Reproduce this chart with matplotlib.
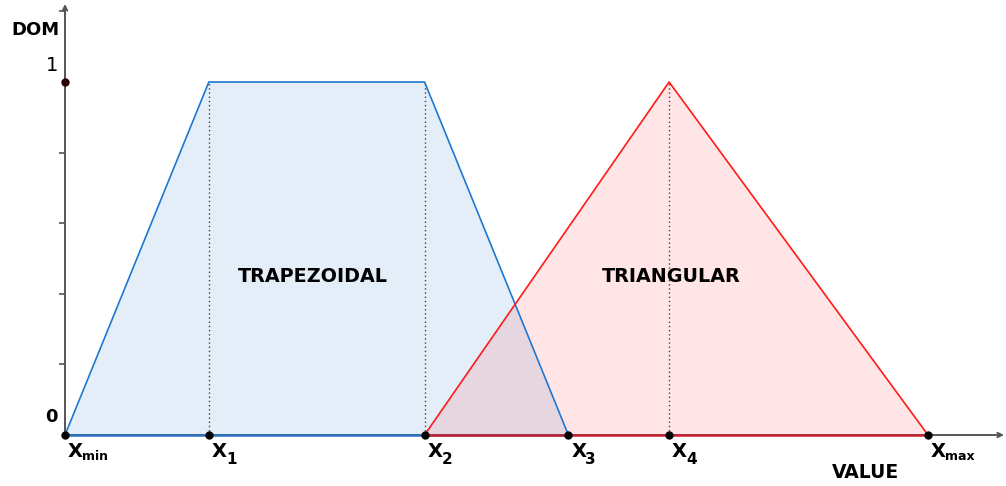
import matplotlib.pyplot as plt
from matplotlib.lines import TICKLEFT

# break points on the VALUE axis
x_subs = ["min", "1", "2", "3", "4", "max"]
x_vals = [0.0, 2.0, 5.0, 7.0, 8.4, 12.0]

trap_x = [0.0, 2.0, 5.0, 7.0]
trap_y = [0.0, 1.0, 1.0, 0.0]
tri_x = [5.0, 8.4, 12.0]
tri_y = [0.0, 1.0, 0.0]

y_minor = [0.2, 0.4, 0.6, 0.8, 1.2]

W, H = 1006, 486
ox, oy = 65, 435          # pixel position of the origin
sx, sy = 863 / 12, 353.0  # pixels per unit

fig = plt.figure(figsize=(W / 100, H / 100), dpi=100)
ax = fig.add_axes([0, 0, 1, 1])
ax.set_xlim(-ox / sx, (W - ox) / sx)
ax.set_ylim(-(H - oy) / sy, oy / sy)
ax.axis("off")

blue = "#1f78d1"
red = "#ff1a1a"

# axes with arrows
ax.annotate("", xy=((1004 - ox) / sx, 0), xytext=(0, 0),
            arrowprops=dict(arrowstyle="->", color="#555555", lw=1.4,
                            mutation_scale=8, shrinkA=0, shrinkB=0), zorder=1)
ax.annotate("", xy=(0, (oy - 4) / sy), xytext=(0, 0),
            arrowprops=dict(arrowstyle="->", color="#555555", lw=1.4,
                            mutation_scale=8, shrinkA=0, shrinkB=0), zorder=1)
ax.plot([0] * len(y_minor), y_minor, ls="none", marker=TICKLEFT,
        ms=4, mew=1.2, color="#555555")

# membership functions
ax.fill(trap_x, trap_y, color=blue, alpha=0.12, lw=0, zorder=2)
ax.plot(trap_x, trap_y, color=blue, lw=1.2, zorder=3)
ax.plot([trap_x[0], trap_x[-1]], [0, 0], color="#2a6fc0", lw=1.8, zorder=3)
ax.fill(tri_x, tri_y, color=red, alpha=0.11, lw=0, zorder=2)
ax.plot(tri_x, tri_y, color=red, lw=1.2, zorder=3)
ax.plot([tri_x[0], tri_x[-1]], [0, 0], color="#c8202e", lw=1.8, zorder=3)

# dotted guides
for xv in [trap_x[1], trap_x[2], tri_x[1]]:
    ax.plot([xv, xv], [0, 1], ls=(0, (1, 2)), color="#444444", lw=1.0, zorder=2)

# points
ax.plot(x_vals, [0] * len(x_vals), "o", color="black", ms=5, zorder=5)
ax.plot([0], [1], "o", color="#2a0000", ms=5, zorder=5)

# labels: bold X with a lowered subscript
for sub, xv in zip(x_subs, x_vals):
    ax.text(xv + 3 / sx, -22 / sy, "X", fontsize=14, fontweight="bold",
            ha="left", va="baseline")
    if sub.isdigit():
        ax.text(xv + 17 / sx, -29 / sy, sub, fontsize=11, fontweight="bold",
                ha="left", va="baseline")
    else:
        ax.text(xv + 17 / sx, -25 / sy, sub, fontsize=9, fontweight="bold",
                ha="left", va="baseline")

ax.text(-30 / sx, (oy - 30) / sy, "DOM", fontsize=13, fontweight="bold",
        ha="center", va="center")
ax.text(-7 / sx, 1 + 17 / sy, "1", fontsize=14, ha="right", va="center")
ax.text(-7 / sx, 18 / sy, "0", fontsize=13, fontweight="bold",
        ha="right", va="center")
ax.text(3.45, 0.45, "TRAPEZOIDAL", fontsize=13.8, fontweight="bold",
        ha="center", va="center")
ax.text(8.425, 0.45, "TRIANGULAR", fontsize=13.8, fontweight="bold",
        ha="center", va="center")
ax.text((865 - ox) / sx, -(472 - oy) / sy, "VALUE", fontsize=13.5,
        fontweight="bold", ha="center", va="center")

fig.savefig("out.png", dpi=100)
